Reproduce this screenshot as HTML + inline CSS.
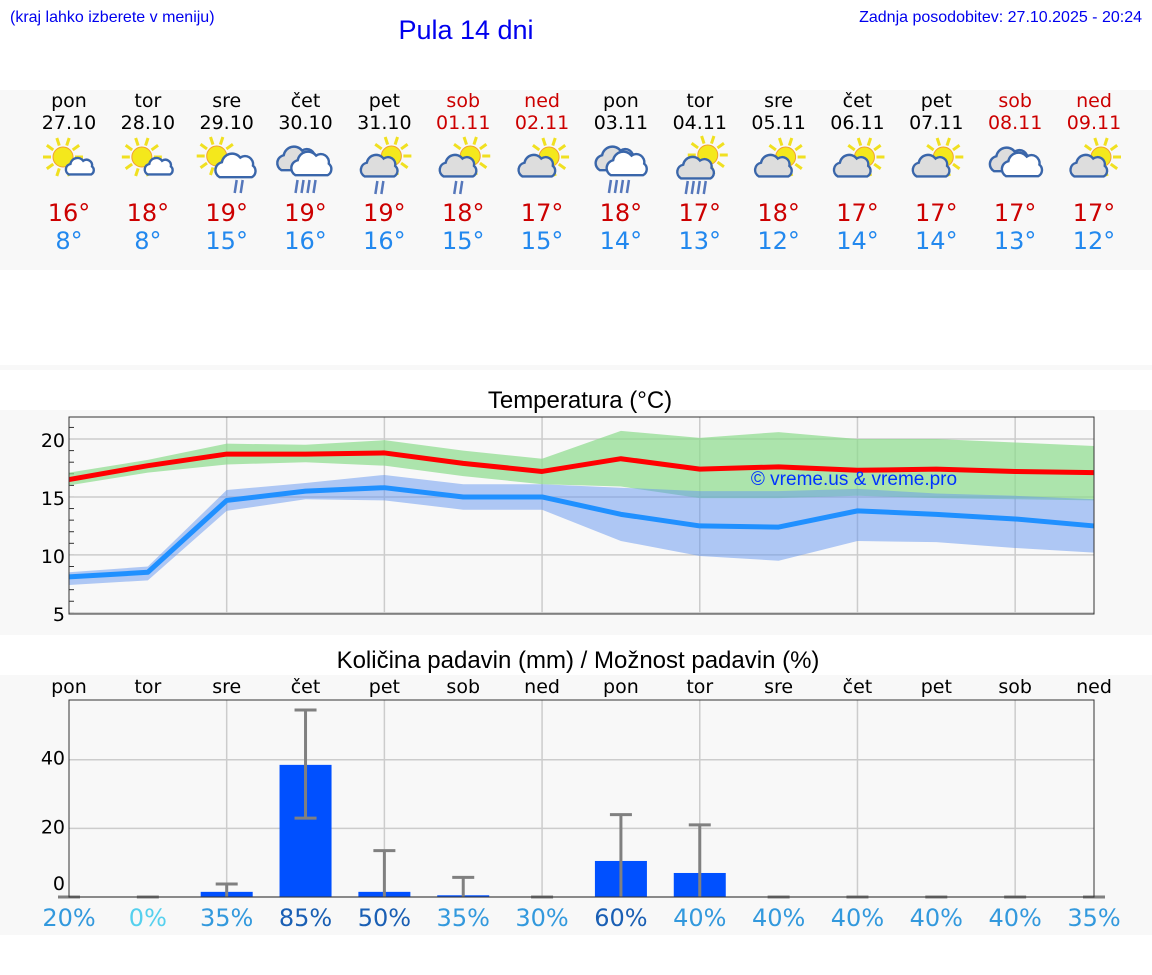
<!DOCTYPE html>
<html><head><meta charset="utf-8"><style>
body{margin:0;background:#fff;width:1152px;height:975px;overflow:hidden;font-family:"DejaVu Sans",sans-serif}
svg{display:block}
</style></head><body>
<svg id="s" width="1152" height="975" xmlns="http://www.w3.org/2000/svg">
<rect x="0" y="90" width="1152" height="180" fill="#f8f8f8"/>
<rect x="0" y="365" width="1152" height="5" fill="#f8f8f8"/>
<rect x="0" y="410" width="1152" height="225" fill="#f8f8f8"/>
<rect x="0" y="675" width="1152" height="260" fill="#f8f8f8"/>
<text x="10" y="22" font-family="Liberation Sans" font-size="16" fill="#0000ee">(kraj lahko izberete v meniju)</text>
<text x="466" y="39" text-anchor="middle" font-family="Liberation Sans" font-size="27" fill="#0000ee">Pula 14 dni</text>
<text x="1142" y="22" text-anchor="end" font-family="Liberation Sans" font-size="16" fill="#0000ee">Zadnja posodobitev: 27.10.2025 - 20:24</text>
<g id="days"></g>
<text x="580" y="408" text-anchor="middle" font-family="Liberation Sans" font-size="24" fill="#000">Temperatura (°C)</text>
<g id="tchart"></g>
<text x="578" y="668" text-anchor="middle" font-family="Liberation Sans" font-size="24" fill="#000">Količina padavin (mm) / Možnost padavin (%)</text>
<g id="pchart"></g>
</svg>
<script>
const dayNames=["pon","tor","sre","čet","pet","sob","ned","pon","tor","sre","čet","pet","sob","ned"];
const dates=["27.10","28.10","29.10","30.10","31.10","01.11","02.11","03.11","04.11","05.11","06.11","07.11","08.11","09.11"];
const weekend=[0,0,0,0,0,1,1,0,0,0,0,0,1,1];
const iconType=[0,0,1,2,3,3,4,5,6,4,4,4,7,4];
const tMaxDaily=[16,18,19,19,19,18,17,18,17,18,17,17,17,17];
const tMinDaily=[8,8,15,16,16,15,15,14,13,12,14,14,13,12];
const maxLine=[16.5,17.7,18.7,18.7,18.8,17.9,17.2,18.3,17.4,17.6,17.3,17.4,17.2,17.1];
const maxHi=[17.1,18.2,19.6,19.5,19.9,19.0,18.3,20.7,20.1,20.6,20.0,20.0,19.7,19.4];
const maxLo=[16.0,17.1,17.8,18.0,17.7,16.8,16.1,15.9,14.9,14.9,15.1,14.9,14.8,14.7];
const minLine=[8.1,8.5,14.7,15.5,15.8,15.0,15.0,13.5,12.5,12.4,13.8,13.5,13.1,12.5];
const minHi=[8.5,9.0,15.6,16.2,16.9,16.1,16.1,15.8,15.5,15.5,15.7,15.3,15.1,14.8];
const minLo=[7.4,7.8,13.8,14.8,14.7,13.9,13.9,11.2,9.9,9.5,11.2,11.1,10.6,10.2];
const tTicks=[5,10,15,20];
const precip=[0,0,1.5,38.5,1.5,0.5,0,10.5,7,0,0,0,0,0];
const precipErrHi=[0,0,3.8,54.5,13.5,5.7,0,24,21,0,0,0,0,0];
const precipErrLo=[0,0,0,23,0,0,0,0,0,0,0,0,0,0];
const chance=[20,0,35,85,50,35,30,60,40,40,40,40,40,35];
const pTicks=[0,20,40];

const NS="http://www.w3.org/2000/svg";
function mk(tag,attrs,parent,txt){const e=document.createElementNS(NS,tag);for(const k in attrs)e.setAttribute(k,attrs[k]);if(txt!==undefined)e.textContent=txt;parent.appendChild(e);return e;}
const X0=69,X1=1094;
const xs=i=>X0+i*(X1-X0)/13;

const days=document.getElementById('days');
function sun(g,cx,cy,r){for(let a=0;a<360;a+=36){const t=a*Math.PI/180;mk('line',{x1:cx+Math.cos(t)*(r+2),y1:cy+Math.sin(t)*(r+2),x2:cx+Math.cos(t)*(r+10),y2:cy+Math.sin(t)*(r+10),stroke:'#f0e020','stroke-width':3},g);}mk('circle',{cx:cx,cy:cy,r:r,fill:'#f4e81c',stroke:'#f0a030','stroke-width':1},g);}
function cloud(g,cx,cy,s,fill){const p=`M${cx-14*s},${cy+8*s} a${7*s},${7*s} 0 0 1 ${2*s},${-13*s} a${9*s},${9*s} 0 0 1 ${16*s},${-4*s} a${7*s},${7*s} 0 0 1 ${11*s},${7*s} a${6*s},${6*s} 0 0 1 ${-1*s},${10*s} z`;mk('path',{d:p,fill:fill,stroke:'#3a66aa','stroke-width':2.4},g);}
function rain(g,cx,cy,n){for(let k=0;k<n;k++)mk('line',{x1:cx+k*6,y1:cy,x2:cx+k*6-2,y2:cy+13,stroke:'#5577bb','stroke-width':2.5},g);}
for(let i=0;i<14;i++){
  const x=xs(i);const col=weekend[i]?'#cc0000':'#000';
  const dn=mk('text',{x:x,y:107,'text-anchor':'middle','font-size':19,fill:col},days,dayNames[i]);
  
  const dt=mk('text',{x:x,y:129,'text-anchor':'middle','font-size':19,fill:col},days,dates[i]);
  
  const g=mk('g',{},days);
  
  const t=iconType[i];
  if(t===0){sun(g,x-6,157,10);cloud(g,x+11,168,0.8,'#fff');}
  else if(t===1){sun(g,x-10,156,10);cloud(g,x+9,168,1.15,'#fff');rain(g,x+10,180,2);}
  else if(t===2){cloud(g,x-8,161,1.15,'#ddd');cloud(g,x+6,166,1.15,'#fff');rain(g,x-8,180,4);}
  else if(t===3){sun(g,x+7,156,10);cloud(g,x-5,168,1.05,'#ddd');rain(g,x-7,181,2);}
  else if(t===4){sun(g,x+7,157,10);cloud(g,x-5,168,1.05,'#ddd');}
  else if(t===5){cloud(g,x-5,161,1.15,'#ddd');cloud(g,x+6,166,1.15,'#fff');rain(g,x-10,180,4);}
  else if(t===6){sun(g,x+8,155,10);cloud(g,x-4,170,1.05,'#ddd');rain(g,x-12,181,4);}
  else if(t===7){cloud(g,x-5,162,1.15,'#ddd');cloud(g,x+7,167,1.15,'#fff');}
  const a=mk('text',{x:x,y:221,'text-anchor':'middle','font-size':24,fill:'#cc0000'},days,tMaxDaily[i]+'°');
  
  const b=mk('text',{x:x,y:249,'text-anchor':'middle','font-size':24,fill:'#2288ee'},days,tMinDaily[i]+'°');
  
}

const tc=document.getElementById('tchart');
const TY0=417,TY1=614,TMIN=4.9,TMAX=21.9;
const ty=v=>TY1-(v-TMIN)/(TMAX-TMIN)*(TY1-TY0);
mk('rect',{x:X0,y:TY0,width:X1-X0,height:TY1-TY0,fill:'#f8f8f8'},tc);
for(let i=2;i<13;i+=2)mk('line',{x1:xs(i),y1:TY0,x2:xs(i),y2:TY1,stroke:'#ccc','stroke-width':1.5},tc);
for(let v=5;v<=21;v++)mk('line',{x1:X0,y1:ty(v),x2:X0+5,y2:ty(v),stroke:'#333','stroke-width':1},tc);
tTicks.forEach(v=>{mk('line',{x1:X0,y1:ty(v),x2:X1,y2:ty(v),stroke:'#ccc','stroke-width':1.5},tc);
  const l=mk('text',{x:X0-4,y:ty(v)+8,'text-anchor':'end','font-size':19,fill:'#000'},tc,v);
  });
function band(hi,lo,fill,name){let d='';hi.forEach((v,i)=>d+=(i?'L':'M')+xs(i)+','+ty(v));for(let i=lo.length-1;i>=0;i--)d+='L'+xs(i)+','+ty(lo[i]);const p=mk('path',{d:d+'Z',fill:fill},tc);}
function line(v,col,name){const p=mk('polyline',{points:v.map((a,i)=>xs(i)+','+ty(a)).join(' '),fill:'none',stroke:col,'stroke-width':5,'stroke-linejoin':'round'},tc);}
band(maxHi,maxLo,'rgba(140,220,140,0.7)','max-temp-range');
band(minHi,minLo,'rgba(100,150,240,0.5)','min-temp-range');
line(maxLine,'#ff0000','max-temp-line');
line(minLine,'#2090ff','min-temp-line');
mk('rect',{x:X0,y:TY0,width:X1-X0,height:TY1-TY0,fill:'none',stroke:'#333','stroke-width':1},tc);
const wm=mk('text',{x:854,y:485,'text-anchor':'middle','font-family':'Liberation Sans','font-size':19,fill:'#0033ff'},tc,'© vreme.us & vreme.pro');


const pc=document.getElementById('pchart');
const PY0=700,PY1=897,PMAX=57.4;
const py=v=>PY1-v/PMAX*(PY1-PY0);
mk('rect',{x:X0,y:PY0,width:X1-X0,height:PY1-PY0,fill:'#f8f8f8'},pc);
for(let i=2;i<13;i+=2)mk('line',{x1:xs(i),y1:PY0,x2:xs(i),y2:PY1,stroke:'#ccc','stroke-width':1.5},pc);
pTicks.forEach(v=>{mk('line',{x1:X0,y1:py(v),x2:X1,y2:py(v),stroke:'#ccc','stroke-width':1.5},pc);
  const l=mk('text',{x:X0-4,y:py(v)-3+(v===0?-4:8),'text-anchor':'end','font-size':19,fill:'#000'},pc,v);
  });
const chCol=c=>c===0?'#55d0ee':(c>=50?'#1a5fb4':'#3399dd');
for(let i=0;i<14;i++){
  const x=xs(i);
  const dl=mk('text',{x:x,y:693,'text-anchor':'middle','font-size':19,fill:'#000'},pc,dayNames[i]);
  
  if(precip[i]>0){const r=mk('rect',{x:x-26,y:py(precip[i]),width:52,height:PY1-py(precip[i]),fill:'#0050ff'},pc);
    }
  const eg=mk('g',{stroke:'#808080','stroke-width':3},pc);
  
  mk('line',{x1:x,y1:py(precipErrLo[i]),x2:x,y2:py(precipErrHi[i])},eg);
  mk('line',{x1:x-11,y1:py(precipErrHi[i]),x2:x+11,y2:py(precipErrHi[i])},eg);
  if(precipErrLo[i]>0)mk('line',{x1:x-11,y1:py(precipErrLo[i]),x2:x+11,y2:py(precipErrLo[i])},eg);
  const ch=mk('text',{x:x,y:926,'text-anchor':'middle','font-size':24,fill:chCol(chance[i])},pc,chance[i]+'%');
  
}
mk('rect',{x:X0,y:PY0,width:X1-X0,height:PY1-PY0,fill:'none',stroke:'#333','stroke-width':1},pc);
</script>
</body></html>
